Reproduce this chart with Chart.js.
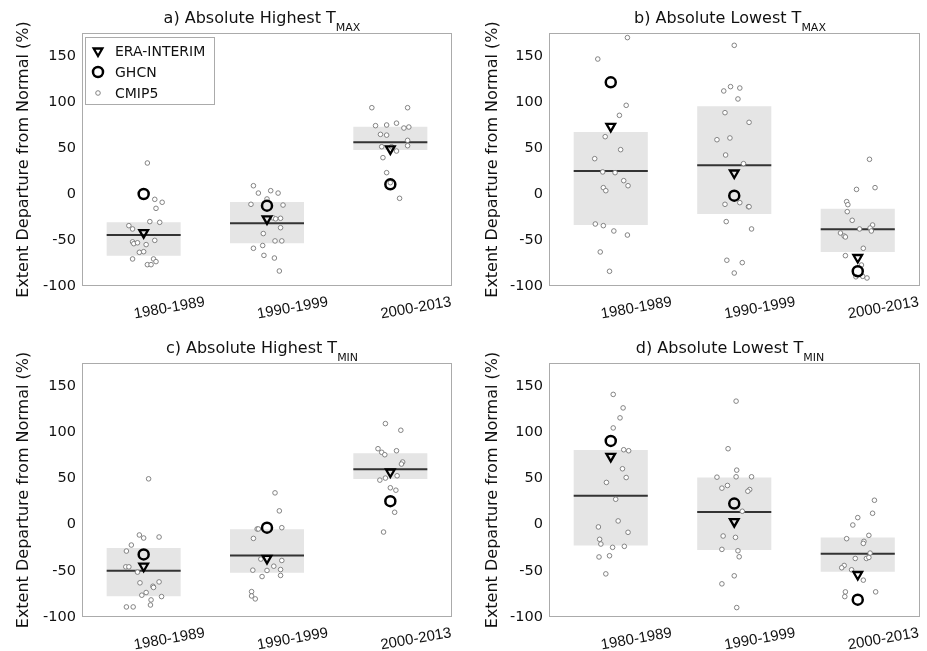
<!DOCTYPE html>
<html>
<head>
<meta charset="utf-8">
<script src="https://cdn.jsdelivr.net/npm/chart.js@4.4.1/dist/chart.umd.min.js"></script>
<style>
  body { margin: 0; background: #fff; }
  #wrap { position: relative; width: 927px; height: 651px; }
  canvas { position: absolute; }
  .ttl { position: absolute; width: 400px; text-align: center; font: 16px/16px "DejaVu Sans", sans-serif; color: #111; white-space: nowrap; }
  .ttl span { font-size: 11px; vertical-align: -8px; }
</style>
</head>
<body>
<div id="wrap"></div>
<script>
const periods = ["1980-1989", "1990-1999", "2000-2013"];

// a) Absolute Highest TMAX
const aEra = [-42, -27, 49];
const aGhcn = [0, -12.7, 10.5];
const aBoxLow = [-67, -53.6, 47.8];
const aBoxHigh = [-30.8, -8.7, 73.2];
const aMedian = [-44.6, -31.9, 56.2];
const aCmip5 = [
  [33.7, -5.8, -9, -15.6, -30, -30.8, -34.4, -38, -50.4, -52, -54, -53, -55, -63.4, -62.7, -70.6, -70.6, -73.5, -76.8, -76.8],
  [9, 1, 3.6, 1, -5.4, -11.2, -12, -26, -26.4, -27, -36.6, -43, -51, -51, -59, -56, -66.7, -69.6, -83.7],
  [93.8, 93.8, 74.3, 75, 77, 71.7, 72.8, 64.8, 64, 58.3, 51.4, 51.4, 46.7, 52.5, 39.5, 23.2, 12.3, -4.7]
];
const aJitter = [
  [0.03, 0.09, 0.15, 0.1, 0.05, 0.13, -0.12, -0.09, 0.09, -0.09, -0.08, -0.05, 0.02, -0.035, 0, -0.09, 0.08, 0.1, 0.03, 0.06],
  [-0.11, -0.07, 0.03, 0.09, 0, -0.13, 0.13, 0.05, 0.11, 0.07, 0.11, -0.03, 0.065, 0.12, -0.11, -0.035, -0.025, 0.06, 0.1],
  [-0.15, 0.14, -0.12, -0.03, 0.05, 0.11, 0.15, -0.08, -0.03, 0.14, -0.07, 0.01, 0.05, 0.14, -0.06, -0.03, 0, 0.075]
];

// b) Absolute Lowest TMAX
const bEra = [73.5, 22.8, -69];
const bGhcn = [121.4, -1.8, -84];
const bBoxLow = [-33.7, -21.7, -63];
const bBoxHigh = [67.4, 95.3, -16];
const bMedian = [25, 31.2, -38.4];
const bCmip5 = [
  [170, 146.7, 96.4, 85.5, 62.3, 48.2, 38.4, 24, 23.2, 14.5, 9, 6.9, 3.6, -32.6, -34.4, -40.2, -44.6, -63, -84],
  [161.6, 116.7, 112, 115.2, 103.3, 88.4, 77.9, 59, 60.9, 42.4, 33, -11.2, -9.4, -13.8, -13.8, -30, -38, -72, -74.6, -85.9],
  [37.7, 6.9, 5, -8.3, -11.6, -19.2, -28.6, -38, -33.7, -37, -40.2, -42.4, -45.7, -46.7, -59, -67, -77.2, -89.5, -91.3, -90]
];
const bJitter = [
  [0.135, -0.105, 0.125, 0.07, -0.045, 0.08, -0.13, -0.065, 0.035, 0.105, 0.14, -0.06, -0.04, -0.125, -0.06, 0.025, 0.135, -0.085, -0.01],
  [0, -0.03, -0.085, 0.045, 0.03, -0.075, 0.12, -0.14, -0.035, -0.07, 0.075, -0.075, 0.045, 0.115, 0.12, -0.065, 0.14, -0.06, 0.065, 0],
  [0.095, 0.14, -0.01, -0.09, -0.08, -0.085, -0.045, 0.015, 0.12, 0.1, 0.11, -0.14, -0.11, -0.1, 0.045, -0.1, 0.03, 0.04, 0.075, -0.015]
];

// c) Absolute Highest TMIN
const cEra = [-45, -36.6, 57];
const cGhcn = [-32.2, -3.3, 25.4];
const cBoxLow = [-77.5, -52.2, 49.3];
const cBoxHigh = [-25.4, -5, 77.2];
const cMedian = [-50, -33.3, 60.1];
const cCmip5 = [
  [49.6, -11.2, -14.5, -13.4, -22.1, -28.6, -45.7, -45.7, -51.4, -62, -63, -66.7, -68, -73.5, -76.4, -77.9, -81.5, -87, -89.1, -89.1],
  [34.4, 14.9, -4.7, -4.7, -3.3, -14.9, -37.3, -38.8, -45, -49.3, -49.6, -48.6, -55, -56.2, -72.5, -77.2, -80.4],
  [109.4, 102.2, 82.2, 78.3, 75.7, 80, 67.8, 65.6, 52.9, 50.4, 48.2, 39.9, 37.3, 13.4, -8]
];
const cJitter = [
  [0.04, -0.035, 0, 0.125, -0.1, -0.14, -0.145, -0.12, -0.05, 0.125, -0.03, 0.075, 0.08, 0.02, -0.015, 0.145, 0.06, 0.055, -0.14, -0.085],
  [0.065, 0.1, -0.08, -0.07, 0.12, -0.11, -0.05, 0.12, 0.055, -0.115, 0, 0.11, 0.11, -0.04, -0.125, -0.125, -0.095],
  [-0.04, 0.085, -0.1, -0.07, -0.045, 0.05, 0.1, 0.09, 0.055, -0.04, -0.085, 0, 0.045, 0.035, -0.055]
];

// d) Absolute Lowest TMIN
const dEra = [73.9, 3.3, -54];
const dGhcn = [90.6, 22.8, -81.2];
const dBoxLow = [-22.5, -27.5, -51.1];
const dBoxHigh = [80.8, 51, -13.8];
const dMedian = [31.2, 13.8, -31.5];
const dCmip5 = [
  [141, 126.4, 115.6, 104.7, 81.1, 80, 60.5, 51, 45.7, 27.5, -2.5, 4, -8.3, -15.9, -21, -24.6, -23.5, -35, -33.7, -53.3],
  [133.7, 82.2, 59, 51.4, 51.8, 51.8, 42.4, 39.5, 38, 36.2, 14.5, -12.3, -13.8, -26.8, -28.3, -34.8, -55.4, -64.1, -89.8],
  [26.4, 12.3, 7.6, -0.4, -11.6, -15.2, -18.1, -20.3, -30.8, -36.6, -36.6, -35.5, -44.2, -46.7, -48.9, -60.1, -72.8, -77.9, -72.8]
];
const dJitter = [
  [0.02, 0.1, 0.075, 0.02, 0.105, 0.145, 0.095, 0.125, -0.035, 0.04, -0.1, 0.06, 0.14, -0.09, -0.08, 0.015, 0.11, -0.095, -0.01, -0.04],
  [0.015, -0.05, 0.02, -0.14, 0.015, 0.14, -0.055, -0.1, 0.125, 0.11, 0.065, -0.09, 0.01, -0.1, 0.03, 0.04, 0, -0.1, 0.02],
  [0.135, 0.12, 0, -0.04, 0.09, -0.09, 0.05, 0.045, 0.1, -0.02, 0.07, 0.09, -0.11, -0.13, -0.05, 0.045, -0.1, -0.105, 0.145]
];

const panels = [
  { title: "a) Absolute Highest T", sub: "MAX", era: aEra, ghcn: aGhcn, low: aBoxLow, high: aBoxHigh, median: aMedian, cmip5: aCmip5, jitter: aJitter,
    legend: true, left: 0, top: 0, w: 463, h: 325, yWidth: 82, pad: { left: 0, top: 33, right: 11, bottom: 0 }, xHeight: 39, titlePad: 14 },
  { title: "b) Absolute Lowest T", sub: "MAX", era: bEra, ghcn: bGhcn, low: bBoxLow, high: bBoxHigh, median: bMedian, cmip5: bCmip5, jitter: bJitter,
    legend: false, left: 463, top: 0, w: 464, h: 325, yWidth: 86, pad: { left: 0, top: 33, right: 6, bottom: 0 }, xHeight: 39, titlePad: 20 },
  { title: "c) Absolute Highest T", sub: "MIN", era: cEra, ghcn: cGhcn, low: cBoxLow, high: cBoxHigh, median: cMedian, cmip5: cCmip5, jitter: cJitter,
    legend: false, left: 0, top: 325, w: 463, h: 326, yWidth: 82, pad: { left: 0, top: 38, right: 11, bottom: 0 }, xHeight: 34, titlePad: 14 },
  { title: "d) Absolute Lowest T", sub: "MIN", era: dEra, ghcn: dGhcn, low: dBoxLow, high: dBoxHigh, median: dMedian, cmip5: dCmip5, jitter: dJitter,
    legend: false, left: 463, top: 325, w: 464, h: 326, yWidth: 86, pad: { left: 0, top: 38, right: 6, bottom: 0 }, xHeight: 34, titlePad: 20 }
];

// grey frame round the plot area
const framePlugin = {
  id: "frame",
  afterDatasetsDraw(chart) {
    const { ctx, chartArea: a } = chart;
    ctx.save();
    ctx.strokeStyle = "#ababab";
    ctx.lineWidth = 1;
    ctx.strokeRect(Math.round(a.left) + 0.5, Math.round(a.top) + 0.5, Math.round(a.width) - 1, Math.round(a.height) - 1);
    ctx.restore();
  }
};

// boxed legend in the upper left corner, markers taken from the first three datasets
const legendBoxPlugin = {
  id: "legendBox",
  afterDraw(chart, args, opts) {
    if (!opts.show) return;
    const { ctx, chartArea: a } = chart;
    ctx.save();
    ctx.fillStyle = "#fff";
    ctx.strokeStyle = "#ababab";
    ctx.lineWidth = 1;
    ctx.fillRect(a.left + 3.5, a.top + 4.5, 129, 67);
    ctx.strokeRect(a.left + 3.5, a.top + 4.5, 129, 67);
    chart.data.datasets.slice(0, 3).forEach((ds, i) => {
      const x = a.left + 16, y = a.top + 18 + i * 21;
      ctx.strokeStyle = ds.pointBorderColor;
      ctx.fillStyle = ds.pointBackgroundColor;
      ctx.lineWidth = ds.pointBorderWidth;
      Chart.helpers.drawPoint(ctx, { pointStyle: ds.pointStyle, rotation: ds.pointRotation || 0, radius: ds.pointRadius, borderWidth: ds.pointBorderWidth }, x, y);
      ctx.fillStyle = "#111";
      ctx.font = '14px "DejaVu Sans"';
      ctx.textBaseline = "middle";
      ctx.fillText(ds.label, a.left + 33, y + 1);
    });
    ctx.restore();
  }
};

const wrap = document.getElementById("wrap");

panels.forEach((p) => {
  const canvas = document.createElement("canvas");
  canvas.width = p.w;
  canvas.height = p.h;
  canvas.style.left = p.left + "px";
  canvas.style.top = p.top + "px";
  wrap.appendChild(canvas);

  const plotLeft = p.left + p.yWidth;
  const plotRight = p.left + p.w - p.pad.right;
  const title = document.createElement("div");
  title.className = "ttl";
  title.style.left = ((plotLeft + plotRight) / 2 - 5 - 200) + "px";
  title.style.top = (p.top + p.pad.top - 10 - 13.5) + "px";
  title.innerHTML = p.title + "<span>" + p.sub + "</span>";
  wrap.appendChild(title);

  const datasets = [
    {
      type: "scatter", label: "ERA-INTERIM",
      data: p.era.map((v, i) => ({ x: i + 1, y: v })),
      pointStyle: "triangle", pointRotation: 180, pointRadius: 5, pointHoverRadius: 5,
      pointBorderColor: "#000", pointBackgroundColor: "rgba(0,0,0,0)", pointBorderWidth: 2.3, order: 0
    },
    {
      type: "scatter", label: "GHCN",
      data: p.ghcn.map((v, i) => ({ x: i + 1, y: v })),
      pointStyle: "circle", pointRadius: 5, pointHoverRadius: 5,
      pointBorderColor: "#000", pointBackgroundColor: "rgba(0,0,0,0)", pointBorderWidth: 2.5, order: 1
    },
    {
      type: "scatter", label: "CMIP5",
      data: p.cmip5.flatMap((vals, i) => vals.map((v, k) => ({ x: i + 1 + p.jitter[i][k], y: v }))),
      pointStyle: "circle", pointRadius: 2.3, pointHoverRadius: 2.3,
      pointBorderColor: "#777", pointBackgroundColor: "#fff", pointBorderWidth: 0.9, order: 2
    },
    {
      type: "line", label: "median",
      data: p.median.flatMap((m, i) => [{ x: i + 0.7, y: m }, { x: i + 1.3, y: m }, { x: i + 1.5, y: null }]),
      borderColor: "#333", borderWidth: 2, pointRadius: 0, spanGaps: false, order: 3
    },
    {
      type: "bar", label: "range",
      data: p.low.map((lo, i) => ({ x: i + 1, y: [lo, p.high[i]] })),
      backgroundColor: "#e5e5e5", borderWidth: 0, barPercentage: 0.6, categoryPercentage: 1, order: 4
    }
  ];

  new Chart(canvas, {
    type: "scatter",
    data: { datasets },
    plugins: [framePlugin, legendBoxPlugin],
    options: {
      responsive: false,
      animation: false,
      events: [],
      layout: { padding: p.pad },
      plugins: {
        legend: { display: false },
        tooltip: { enabled: false },
        legendBox: { show: p.legend }
      },
      scales: {
        x: {
          type: "linear", min: 0.5, max: 3.5, offset: false,
          grid: { display: false, drawTicks: false, offset: false },
          border: { display: false },
          afterBuildTicks: (s) => { s.ticks = periods.map((_, i) => ({ value: i + 1 })); },
          afterFit: (s) => { s.height = p.xHeight; },
          ticks: {
            autoSkip: false, minRotation: 10, maxRotation: 10, labelOffset: 61, padding: 7,
            color: "#111", font: { family: "Liberation Sans", size: 15 },
            callback: (v) => periods[Math.round(v) - 1]
          }
        },
        y: {
          type: "linear", min: -100, max: 175, beginAtZero: false,
          grid: { display: false, drawTicks: false },
          border: { display: false },
          afterFit: (s) => { s.width = p.yWidth; },
          ticks: { stepSize: 50, includeBounds: false, padding: 6, color: "#111", font: { family: "DejaVu Sans", size: 14.5 } },
          title: {
            display: true, text: "Extent Departure from Normal (%)", color: "#111",
            font: { family: "DejaVu Sans", size: 16 }, padding: { top: p.titlePad, bottom: 0 }
          }
        }
      }
    }
  });
});
</script>
</body>
</html>
